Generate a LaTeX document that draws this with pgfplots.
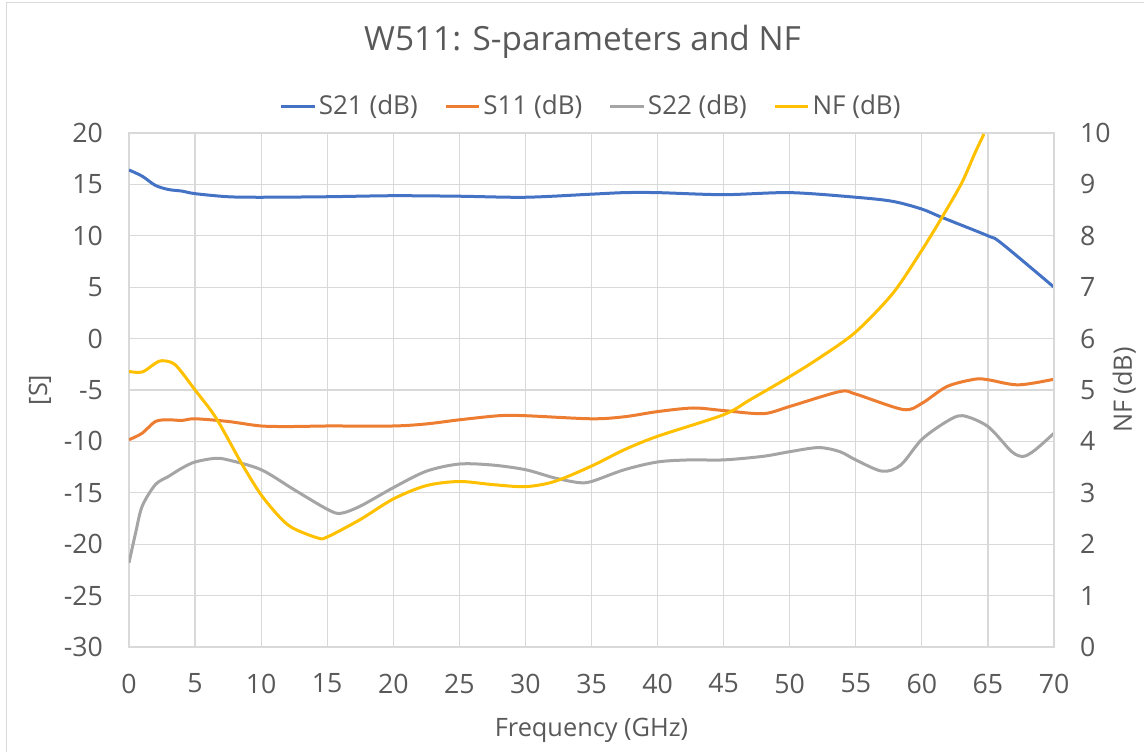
\documentclass[border=0pt]{standalone}
\usepackage{fontspec}
\setmainfont{Open Sans}
\usepackage{pgfplots}
\usepackage{pgfplotstable}
\pgfplotsset{compat=1.18}
\definecolor{cS21}{HTML}{4472C4}
\definecolor{cS11}{HTML}{ED7D31}
\definecolor{cS22}{HTML}{A5A5A5}
\definecolor{cNF}{HTML}{FFC000}
\definecolor{gridc}{HTML}{D9D9D9}
\definecolor{textc}{HTML}{595959}

\pgfplotstableread{
f s
0 16.4
1 15.8
2 14.9
3 14.5
4 14.35
5 14.1
7.5 13.8
10 13.75
15 13.8
20 13.9
25 13.85
30 13.75
35 14.05
37.5 14.2
40 14.2
45 14.0
50 14.2
55 13.75
57.8 13.35
60 12.6
61.5 11.8
65 10.0
66 9.3
70 5.0
}\sTwoOne

\pgfplotstableread{
f s
0 -9.84
1 -9.2
2 -8.06
3 -7.9
4 -7.96
5 -7.8
7.5 -8.06
10 -8.5
12.5 -8.55
15 -8.5
20 -8.5
22.5 -8.3
25 -7.9
28 -7.5
30 -7.5
35 -7.8
37.5 -7.6
40 -7.1
42.7 -6.75
45 -7.0
48 -7.3
50 -6.6
53.8 -5.15
55 -5.4
58.6 -6.9
60 -6.3
61.9 -4.66
64 -3.95
65 -4.0
67.3 -4.5
70 -3.95
}\sOneOne

\pgfplotstableread{
f s
0 -21.8
0.5 -18.9
1 -16.3
2 -14.2
3 -13.4
4 -12.6
5 -12.0
6.5 -11.65
7.5 -11.8
10 -12.75
12.5 -14.7
15 -16.6
16 -17.0
17.5 -16.3
20 -14.5
22.5 -12.9
25 -12.2
27.5 -12.3
30 -12.75
32.2 -13.55
34 -14.0
35 -13.9
37.5 -12.75
40 -12.0
42.4 -11.8
45 -11.8
48 -11.45
50 -11.0
52.2 -10.6
53.8 -11.0
55 -11.8
57 -12.9
58.4 -12.3
60 -9.8
61.9 -8.05
63.1 -7.5
65 -8.55
66.8 -11.0
67.7 -11.45
68.6 -10.8
70 -9.2
}\sTwoTwo

\pgfplotstableread{
f nf
0 5.36
1 5.35
2 5.52
2.5 5.57
3.5 5.49
5 5.0
6.6 4.45
8.5 3.58
10 2.96
11.5 2.5
12.5 2.3
14.3 2.12
15 2.14
17.5 2.48
20 2.88
22.5 3.14
25 3.22
27.5 3.16
30 3.12
32.2 3.22
35 3.52
37.5 3.84
40 4.1
45 4.52
47 4.81
50 5.26
52.4 5.65
55 6.13
57.8 6.88
60 7.72
61.5 8.35
63 9.02
64 9.6
64.7 9.98
}\nfTable

\pgfplotsset{
  common/.style={
    at={(96.75pt,78pt)}, anchor=south west,
    scale only axis, width=693.75pt, height=385.5pt,
    xmin=0, xmax=70,
    tick style={draw=none},
    /pgf/number format/assume math mode=true,
    ticklabel style={font=\fontsize{20}{24}\selectfont, text=textc},
    label style={font=\fontsize{19}{23}\selectfont, text=textc},
  },
  legend image code/.code={\draw[#1] (0pt,0pt) -- (25pt,0pt);},
}

\begin{document}
\begin{tikzpicture}
\useasboundingbox (0,0) rectangle (858pt,563.25pt);
\draw[gridc, line width=0.75pt] (4.5pt,-10pt) -- (4.5pt,561pt) -- (880pt,561pt);
\node[font=\fontsize{25}{30}\selectfont, text=textc] at (436.9pt,531.75pt) {W511: S-parameters and NF};

\begin{axis}[common,
  ymin=-30, ymax=20,
  xtick={0,5,...,70}, ytick={-30,-25,...,20},
  grid=major, major grid style={gridc, line width=0.9pt},
  axis line style={gridc, line width=0.9pt},
  yticklabel style={xshift=-16pt},
  xticklabel style={yshift=-16.5pt},
  xlabel={Frequency (GHz)},
  ylabel={[S]},
  xlabel style={at={(axis description cs:0.5,-0.1615)}, anchor=center},
  ylabel style={at={(axis description cs:-0.0962,0.5)}, anchor=center},
  legend columns=4,
  legend style={at={(axis description cs:0.5,1)}, anchor=center, yshift=20.25pt,
    draw=none, fill=none, font=\fontsize{19.5}{23}\selectfont, text=textc,
    /tikz/every even column/.append style={column sep=18pt},
    inner sep=0pt},
  legend cell align=left,
]
\addplot[cS21, line width=2.25pt, smooth] table[x=f,y=s] {\sTwoOne};
\addlegendentry{S21 (dB)}
\addplot[cS11, line width=2.25pt, smooth] table[x=f,y=s] {\sOneOne};
\addlegendentry{S11 (dB)}
\addplot[cS22, line width=2.25pt, smooth] table[x=f,y=s] {\sTwoTwo};
\addlegendentry{S22 (dB)}
\addlegendimage{cNF, line width=2.25pt}
\addlegendentry{NF (dB)}
\end{axis}

\begin{axis}[common,
  ymin=0, ymax=10,
  ytick={0,1,...,10},
  axis x line=none,
  axis y line*=right,
  axis line style={gridc, line width=0.9pt},
  yticklabel style={xshift=16pt},
  ylabel={NF (dB)},
  ylabel style={at={(axis description cs:1.076,0.5)}, anchor=center, rotate=0},
]
\addplot[cNF, line width=2.25pt, smooth] table[x=f,y=nf] {\nfTable};
\end{axis}
\end{tikzpicture}
\end{document}
